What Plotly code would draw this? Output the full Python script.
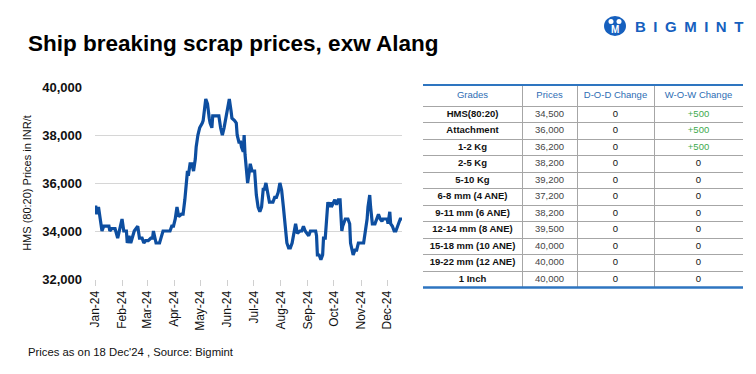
import plotly.graph_objects as go

# ---------------- data ----------------
dates = [
    "2024-01-01", "2024-01-02", "2024-01-03", "2024-01-05", "2024-01-09", "2024-01-11",
    "2024-01-17", "2024-01-18", "2024-01-20", "2024-01-24", "2024-01-27", "2024-01-29",
    "2024-02-01", "2024-02-03", "2024-02-06", "2024-02-07", "2024-02-09", "2024-02-11",
    "2024-02-13", "2024-02-15", "2024-02-19", "2024-02-21", "2024-02-24", "2024-02-26",
    "2024-02-28", "2024-03-02", "2024-03-05", "2024-03-07", "2024-03-08", "2024-03-11",
    "2024-03-15", "2024-03-19", "2024-03-27", "2024-03-29", "2024-03-31", "2024-04-02",
    "2024-04-04", "2024-04-06", "2024-04-09", "2024-04-11", "2024-04-13", "2024-04-15",
    "2024-04-16", "2024-04-17", "2024-04-19", "2024-04-21", "2024-04-23", "2024-04-25",
    "2024-04-26", "2024-04-28", "2024-04-30", "2024-05-03", "2024-05-04", "2024-05-07",
    "2024-05-09", "2024-05-11", "2024-05-12", "2024-05-14", "2024-05-15", "2024-05-19",
    "2024-05-22", "2024-05-24", "2024-05-26", "2024-05-28", "2024-05-31", "2024-06-03",
    "2024-06-05", "2024-06-06", "2024-06-09", "2024-06-11", "2024-06-12", "2024-06-14",
    "2024-06-16", "2024-06-17", "2024-06-19", "2024-06-20", "2024-06-21", "2024-06-23",
    "2024-06-24", "2024-06-26", "2024-06-27", "2024-06-29", "2024-07-02", "2024-07-04",
    "2024-07-06", "2024-07-08", "2024-07-10", "2024-07-12", "2024-07-13", "2024-07-15",
    "2024-07-17", "2024-07-19", "2024-07-23", "2024-07-25", "2024-07-27", "2024-07-29",
    "2024-07-31", "2024-08-02", "2024-08-04", "2024-08-06", "2024-08-08", "2024-08-10",
    "2024-08-12", "2024-08-14", "2024-08-16", "2024-08-18", "2024-08-20", "2024-08-23",
    "2024-08-25", "2024-08-27", "2024-08-29", "2024-09-02", "2024-09-04", "2024-09-07",
    "2024-09-10", "2024-09-11", "2024-09-12", "2024-09-14", "2024-09-16", "2024-09-18",
    "2024-09-19", "2024-09-21", "2024-09-23", "2024-09-24", "2024-09-26", "2024-09-27",
    "2024-09-28", "2024-10-02", "2024-10-04", "2024-10-06", "2024-10-08", "2024-10-10",
    "2024-10-11", "2024-10-14", "2024-10-17", "2024-10-19", "2024-10-20", "2024-10-23",
    "2024-10-25", "2024-10-27", "2024-10-29", "2024-11-04", "2024-11-06", "2024-11-08",
    "2024-11-09", "2024-11-11", "2024-11-12", "2024-11-14", "2024-11-17", "2024-11-19",
    "2024-11-21", "2024-11-23", "2024-11-25", "2024-11-26", "2024-12-01", "2024-12-02",
    "2024-12-04", "2024-12-05", "2024-12-07", "2024-12-09", "2024-12-11", "2024-12-14",
    "2024-12-16", "2024-12-18",
]
hms_prices = [
    35000, 35000, 34700, 35000, 34000, 34200,
    34200, 34000, 34100, 34100, 33700, 34000,
    34500, 34000, 34000, 33500, 33800, 33500,
    33800, 34000, 34200, 33700, 33700, 33500,
    33600, 33600, 33700, 33700, 34000, 33500,
    33500, 34000, 34000, 34200, 34200, 34500,
    35000, 34600, 34700, 34700, 35300, 36300,
    36500, 36300, 36800, 36800, 36500, 37000,
    37500, 38000, 38300, 38500, 38600, 39500,
    39300, 38700, 38500, 38300, 38800, 38800,
    38800, 38300, 38000, 38300, 39000, 39500,
    39000, 38700, 38600, 38500, 38000, 37700,
    37700, 37500, 37300, 38000, 37200, 36500,
    36000, 36500, 36800, 36500, 36500, 35500,
    35000, 34800, 35000, 35800, 35700, 36000,
    35500, 35200, 35200, 35400, 35400, 35600,
    36000, 35700, 35000, 34300, 33500, 33300,
    33300, 33500, 34000, 34300, 33900, 34000,
    34000, 34200, 34000, 33800, 34000, 34000,
    34000, 33800, 33000, 33000, 32800, 33000,
    33700, 33700, 34500, 35200, 35000, 35200,
    35000, 35300, 35100, 35300, 35300, 34000,
    34200, 34500, 34500, 34300, 33500, 33000,
    33200, 33200, 33500, 33500, 34000, 34500,
    35000, 35500, 35000, 34300, 34300, 34500,
    34700, 34500, 34400, 34500, 34500, 34300,
    34800, 34300, 34200, 34000, 34000, 34300,
    34500, 34500,
]

month_ticks = ["2024-01-01", "2024-02-01", "2024-03-01", "2024-04-01", "2024-05-01", "2024-06-01",
               "2024-07-01", "2024-08-01", "2024-09-01", "2024-10-01", "2024-11-01", "2024-12-01"]
month_labels = ["Jan-24", "Feb-24", "Mar-24", "Apr-24", "May-24", "Jun-24",
                "Jul-24", "Aug-24", "Sep-24", "Oct-24", "Nov-24", "Dec-24"]
y_ticks = [32000, 34000, 36000, 38000, 40000]

table_headers = ["Grades", "Prices", "D-O-D Change", "W-O-W Change"]
grades = ["HMS(80:20)", "Attachment", "1-2 Kg", "2-5 Kg", "5-10 Kg", "6-8 mm (4 ANE)",
          "9-11 mm (6 ANE)", "12-14 mm (8 ANE)", "15-18 mm (10 ANE)", "19-22 mm (12 ANE)", "1 Inch"]
grade_prices = [34500, 36000, 36200, 38200, 39200, 37200, 38200, 39500, 40000, 40000, 40000]
dod_change = [0, 0, 0, 0, 0, 0, 0, 0, 0, 0, 0]
wow_change = [500, 500, 500, 0, 0, 0, 0, 0, 0, 0, 0]

# ---------------- styling / layout sizes ----------------
PAGE_W, PAGE_H = 756, 374
BODY_MARGIN = 8                      # default page margin around the plot div
W, H = PAGE_W - BODY_MARGIN, PAGE_H - BODY_MARGIN
FONT = "Liberation Sans, Arial, sans-serif"
BLUE = "#0D4EA0"
LOGO_BLUE = "#1660BE"
col_widths = [99, 55, 77, 89]
header_h = 21
row_h = 16.5


def fx(p):
    """window pixel x -> paper fraction"""
    return (p - BODY_MARGIN) / W


def fy(p):
    """window pixel y (from top) -> paper fraction"""
    return 1 - (p - BODY_MARGIN) / H


def fmt_change(v):
    return f"+{v:,}" if v > 0 else (f"{v:,}" if v < 0 else "0")


# table geometry derived from sizes
col_edges = [0]
for w_ in col_widths:
    col_edges.append(col_edges[-1] + w_)
col_centers = [(col_edges[i] + col_edges[i + 1]) / 2 for i in range(len(col_widths))]
n = len(grades)
row_edges = [0, header_h] + [header_h + row_h * (i + 1) for i in range(n)]
row_centers = [header_h + row_h * (i + 0.5) for i in range(n)]
table_total = row_edges[-1]

fig = go.Figure()

# price line
fig.add_trace(go.Scatter(
    x=dates, y=hms_prices, mode="lines",
    line=dict(color=BLUE, width=3.2),
    showlegend=False, hoverinfo="x+y",
))

# table header
fig.add_trace(go.Scatter(
    x=col_centers, y=[header_h / 2] * len(table_headers), text=table_headers,
    mode="text", textposition="middle center", xaxis="x2", yaxis="y2",
    textfont=dict(family=FONT, size=9.5, color="#2E6DB4"),
    showlegend=False, hoverinfo="skip", cliponaxis=False,
))
# table columns
table_cols = [
    (list(grades), ["#111111"] * n, "bold"),
    ([f"{p:,}" for p in grade_prices], ["#454545"] * n, "normal"),
    ([fmt_change(v) for v in dod_change], ["#111111"] * n, "normal"),
    ([fmt_change(v) for v in wow_change], ["#3DAA4E" if v > 0 else "#111111" for v in wow_change], "normal"),
]
for ci, (texts, colors, weight) in enumerate(table_cols):
    fig.add_trace(go.Scatter(
        x=[col_centers[ci]] * n, y=row_centers, text=texts,
        mode="text", textposition="middle center", xaxis="x2", yaxis="y2",
        textfont=dict(family=FONT, size=9.5, color=colors, weight=weight),
        showlegend=False, hoverinfo="skip", cliponaxis=False,
    ))

fig.update_layout(
    width=W, height=H,
    margin=dict(l=0, r=0, t=0, b=0, autoexpand=False),
    paper_bgcolor="white", plot_bgcolor="white",
    font=dict(family=FONT, color="#111111"),
    xaxis=dict(
        domain=[fx(95), fx(402)],
        type="date",
        range=["2024-01-01", "2024-12-18"],
        tickvals=month_ticks, ticktext=month_labels,
        tickangle=-90,
        tickfont=dict(size=12, color="#111111"),
        showgrid=False, zeroline=False, showline=False,
        ticks="outside", ticklen=6, tickcolor="#D0D0D0", tickwidth=1,
        automargin=False,
    ),
    yaxis=dict(
        domain=[fy(279), fy(87)],
        range=[32000, 40000],
        tickvals=y_ticks, tickformat=",",
        tickfont=dict(size=13, color="#111111", weight="bold"),
        showgrid=True, gridcolor="#D6D6D6", gridwidth=1,
        zeroline=False, showline=False, ticks="",
        ticklabelstandoff=12,
        automargin=False,
        title=dict(text="HMS (80:20) Prices in INR/t", font=dict(size=11, color="#111111"), standoff=8),
    ),
    xaxis2=dict(
        domain=[fx(423), fx(743)], anchor="y2",
        range=[col_edges[0], col_edges[-1]],
        tickvals=col_edges[1:-1], showticklabels=False, ticks="",
        showgrid=True, gridcolor="#A6A6A6", gridwidth=1,
        zeroline=False, showline=False, fixedrange=True, automargin=False,
    ),
    yaxis2=dict(
        domain=[fy(85 + table_total), fy(85)], anchor="x2",
        range=[table_total, 0],
        tickvals=row_edges[1:-1], showticklabels=False, ticks="",
        showgrid=True, gridcolor="#A6A6A6", gridwidth=1,
        zeroline=False, showline=False, fixedrange=True, automargin=False,
    ),
    shapes=[
        dict(type="line", xref="x2 domain", yref="y2 domain", x0=0, x1=1, y0=1, y1=1,
             line=dict(color="#2E75C0", width=2)),
        dict(type="line", xref="x2 domain", yref="y2 domain", x0=0, x1=1, y0=0, y1=0,
             line=dict(color="#2E75C0", width=2.5)),
        # logo mark
        dict(type="circle", xref="paper", yref="paper", x0=fx(604), x1=fx(626), y0=fy(36), y1=fy(16),
             line=dict(color=LOGO_BLUE, width=0), fillcolor=LOGO_BLUE),
        dict(type="circle", xref="paper", yref="paper", x0=fx(608.5), x1=fx(613.5), y0=fy(24), y1=fy(19),
             line=dict(width=0), fillcolor="white"),
        dict(type="circle", xref="paper", yref="paper", x0=fx(616.5), x1=fx(621.5), y0=fy(24), y1=fy(19),
             line=dict(width=0), fillcolor="white"),
    ],
    annotations=[
        dict(text="<b>Ship breaking scrap prices, exw Alang</b>", xref="paper", yref="paper",
             x=fx(26), y=fy(43), xanchor="left", yanchor="middle", showarrow=False,
             font=dict(size=22.5, color="#000000", family=FONT)),
        dict(text="<b>B\u2002I\u2002G\u2002M\u2002I\u2002N\u2002T</b>", xref="paper", yref="paper",
             x=fx(633), y=fy(27), xanchor="left", yanchor="middle", showarrow=False,
             font=dict(size=15, color=LOGO_BLUE, family=FONT)),
        dict(text="<b>M</b>", xref="paper", yref="paper",
             x=fx(615), y=fy(29.5), xanchor="center", yanchor="middle", showarrow=False,
             font=dict(size=10, color="white", family=FONT)),
        dict(text="Prices as on 18 Dec'24 , Source: Bigmint", xref="paper", yref="paper",
             x=fx(26), y=fy(352), xanchor="left", yanchor="middle", showarrow=False,
             font=dict(size=11.3, color="#111111", family=FONT)),
    ],
)

fig.write_html("out.html")
